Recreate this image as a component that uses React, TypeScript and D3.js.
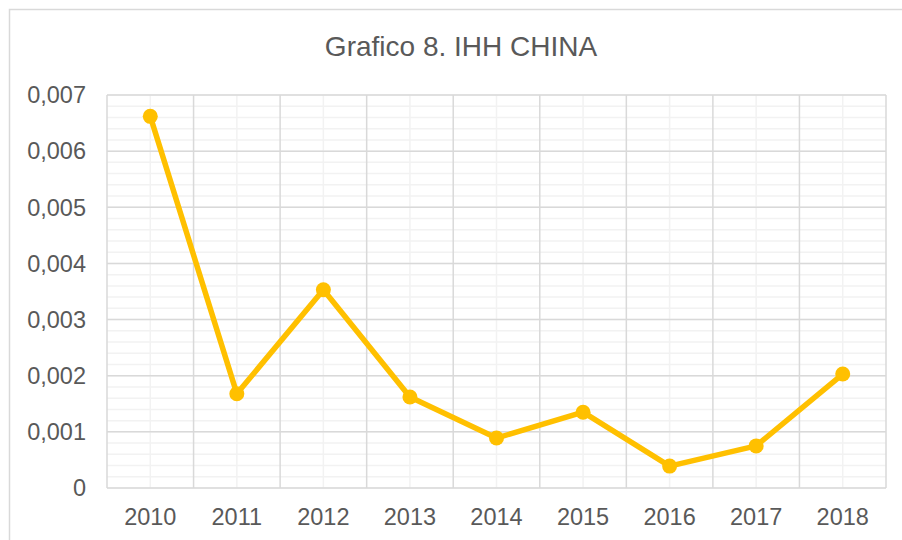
import React from "react";
import * as d3 from "d3";

const years = ["2010", "2011", "2012", "2013", "2014", "2015", "2016", "2017", "2018"];
const ihh = [0.00662, 0.00168, 0.00353, 0.00162, 0.00089, 0.00135, 0.00039, 0.00075, 0.00203];
const yTicks = [0, 0.001, 0.002, 0.003, 0.004, 0.005, 0.006, 0.007];
const title = "Grafico 8. IHH CHINA";

const W = 902;
const H = 540;
const plot = { left: 107, right: 886, top: 95, bottom: 488 };

export default function App() {
  const x = d3.scaleBand<string>().domain(years).range([plot.left, plot.right]).padding(0);
  const y = d3.scaleLinear().domain([0, 0.007]).range([plot.bottom, plot.top]);
  const minorY = d3.range(0, 0.007 + 1e-9, 0.0002);
  const line = d3
    .line<number>()
    .x((_, i) => (x(years[i]) as number) + x.bandwidth() / 2)
    .y((d) => y(d));
  const fmt = (v: number) => (v === 0 ? "0" : v.toFixed(3).replace(".", ","));
  const font = "'Liberation Sans', Arial, sans-serif";
  const textColor = "#595959";

  return (
    <svg width={W} height={H} style={{ position: "absolute", left: 0, top: 0, background: "#fff" }}>
      <rect x={9.5} y={9.5} width={W + 20} height={H + 20} fill="#fff" stroke="#d9d9d9" strokeWidth={1.5} />
      <text x={461} y={56} textAnchor="middle" fontFamily={font} fontSize={28} fill={textColor}>
        {title}
      </text>
      {minorY.map((v, i) => (
        <line key={"mh" + i} x1={plot.left} x2={plot.right} y1={y(v)} y2={y(v)} stroke="#f2f2f2" strokeWidth={1.5} />
      ))}
      {years.map((yr) => {
        const cx = (x(yr) as number) + x.bandwidth() / 2;
        return <line key={"mv" + yr} x1={cx} x2={cx} y1={plot.top} y2={plot.bottom} stroke="#f2f2f2" strokeWidth={1.5} />;
      })}
      {yTicks.map((v) => (
        <line key={"h" + v} x1={plot.left} x2={plot.right} y1={y(v)} y2={y(v)} stroke="#d9d9d9" strokeWidth={1.5} />
      ))}
      {years.concat(["end"]).map((yr, i) => {
        const bx = plot.left + i * x.bandwidth();
        return <line key={"v" + yr} x1={bx} x2={bx} y1={plot.top} y2={plot.bottom} stroke="#d9d9d9" strokeWidth={1.5} />;
      })}
      {yTicks.map((v) => (
        <text key={"yl" + v} x={86} y={y(v)} dy="0.35em" textAnchor="end" fontFamily={font} fontSize={23.5} fill={textColor}>
          {fmt(v)}
        </text>
      ))}
      {years.map((yr) => (
        <text
          key={"xl" + yr}
          x={(x(yr) as number) + x.bandwidth() / 2}
          y={525}
          textAnchor="middle"
          fontFamily={font}
          fontSize={23.5}
          fill={textColor}
        >
          {yr}
        </text>
      ))}
      <path d={line(ihh) || ""} fill="none" stroke="#FFC000" strokeWidth={5.5} strokeLinejoin="round" strokeLinecap="round" />
      {ihh.map((v, i) => (
        <circle key={"pt" + i} cx={(x(years[i]) as number) + x.bandwidth() / 2} cy={y(v)} r={7.5} fill="#FFC000" />
      ))}
    </svg>
  );
}
